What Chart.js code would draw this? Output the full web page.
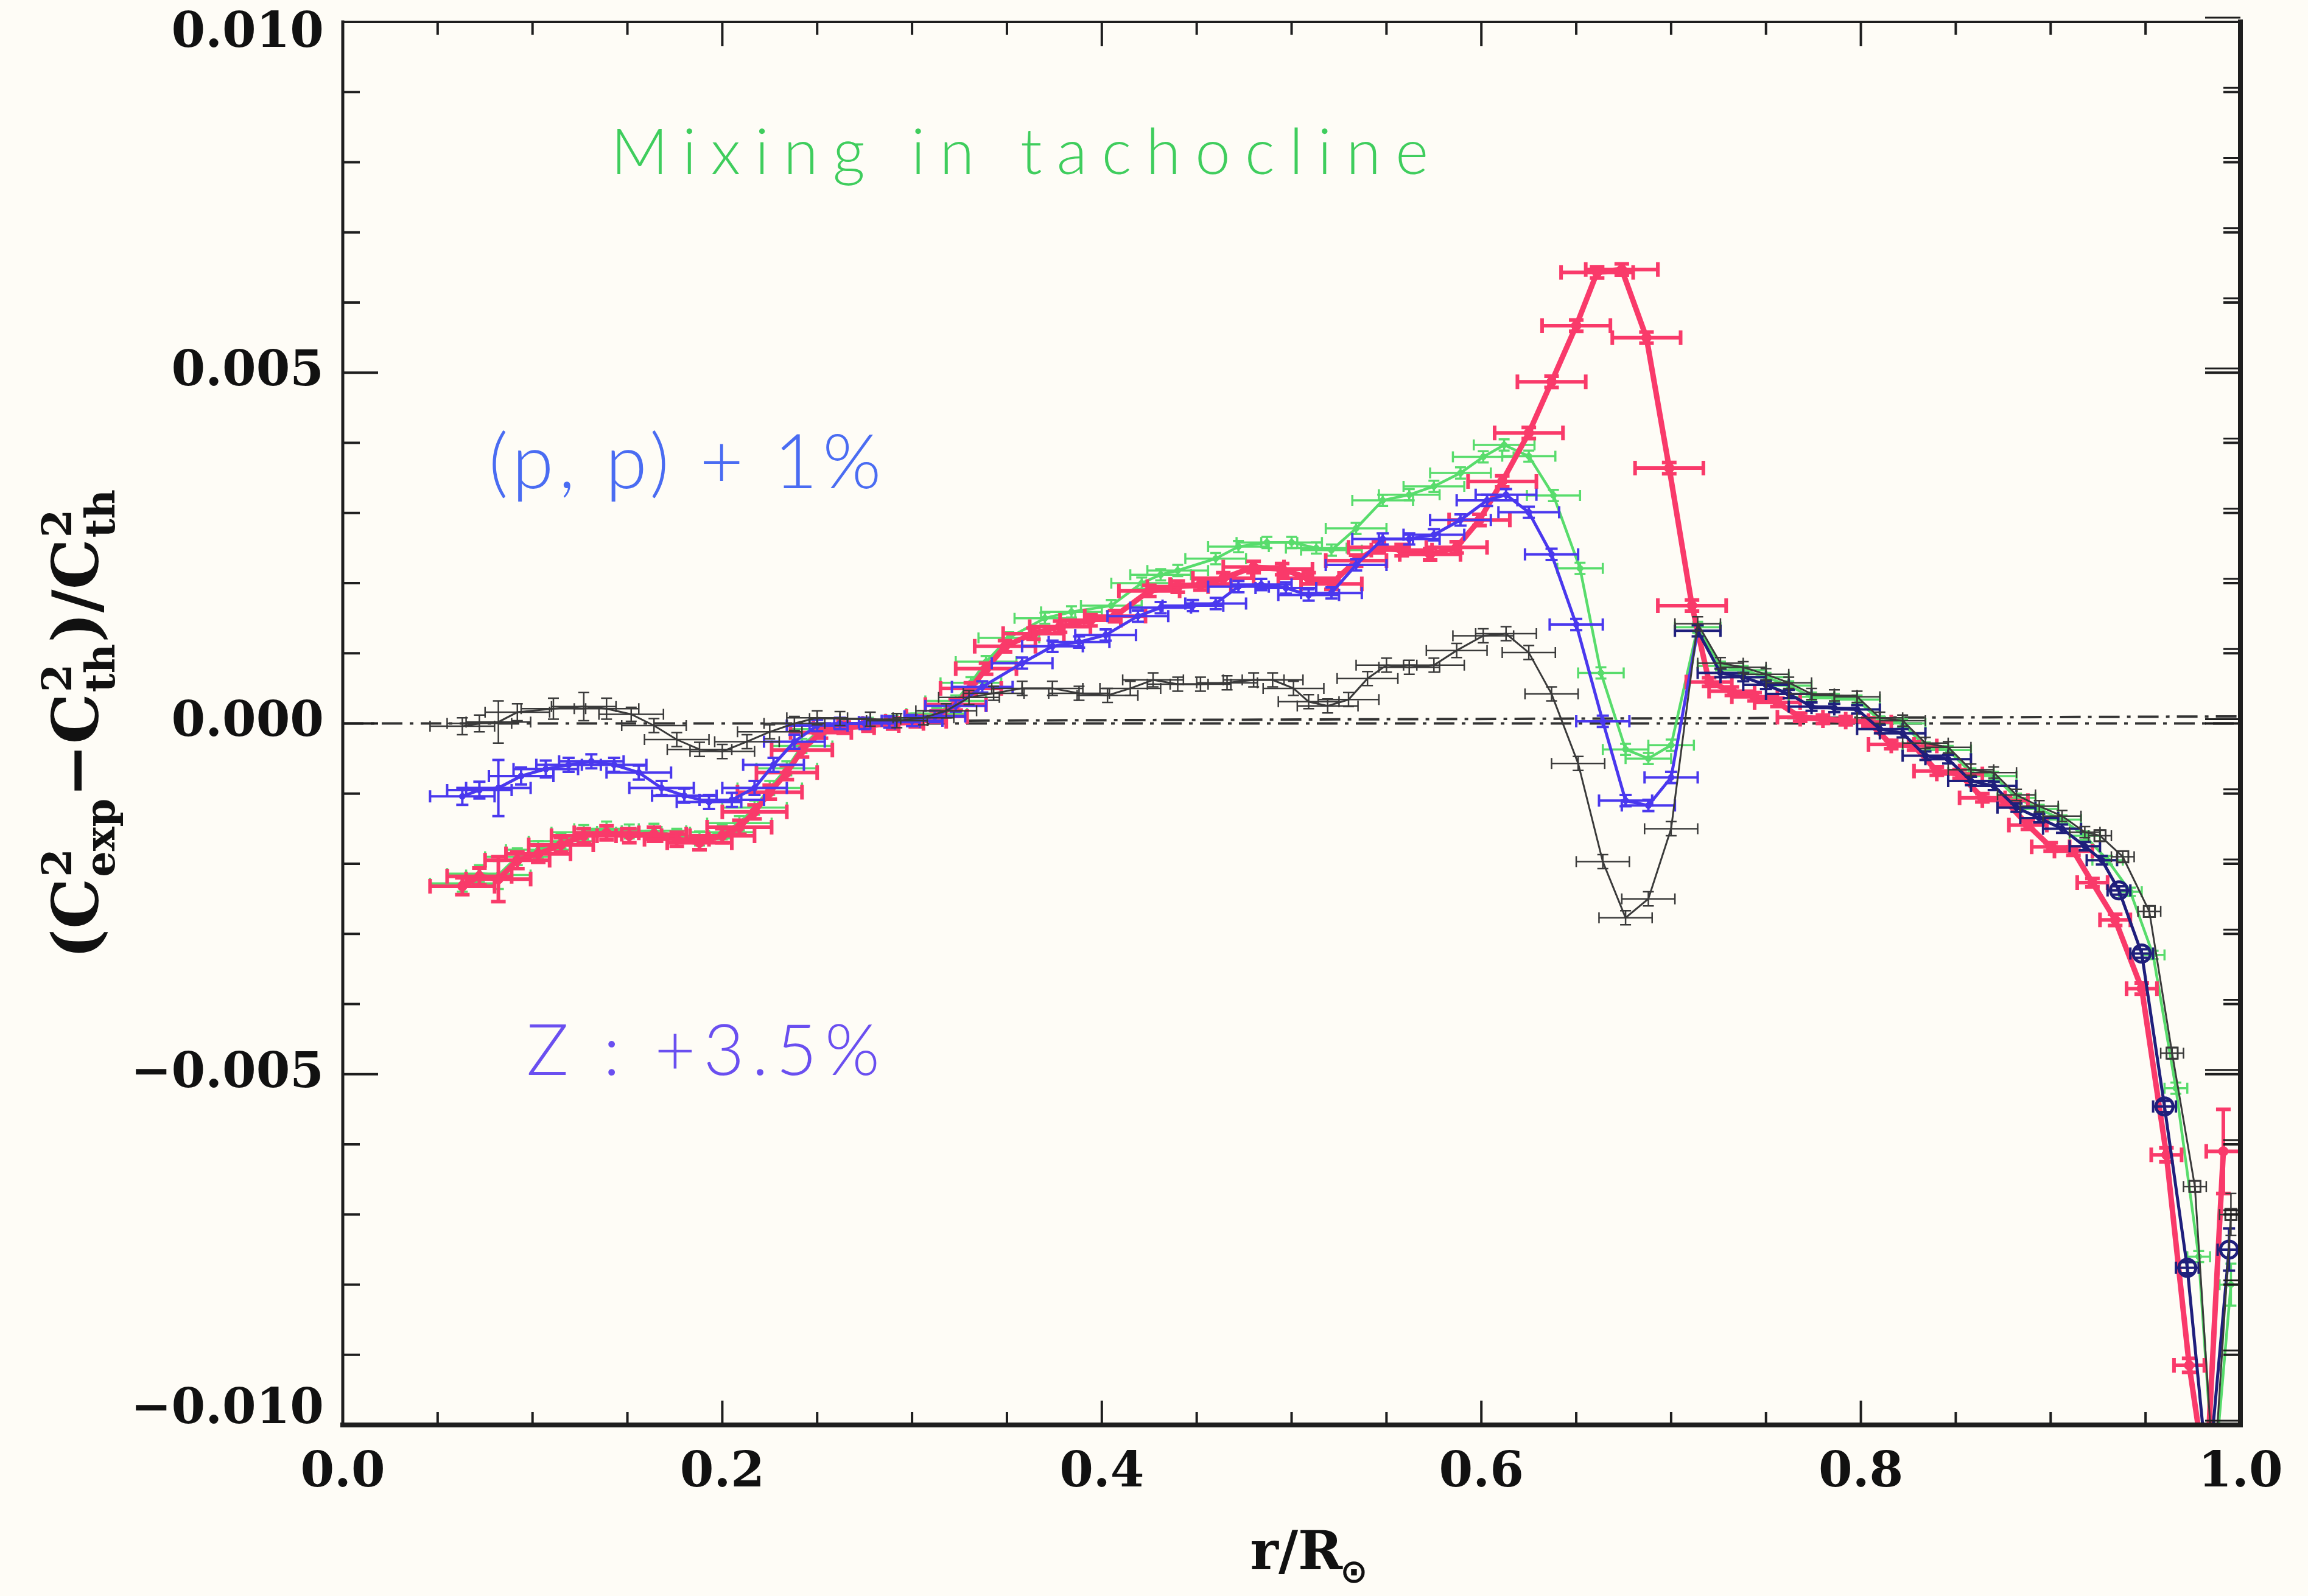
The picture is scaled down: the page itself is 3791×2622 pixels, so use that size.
<!DOCTYPE html>
<html><head><meta charset="utf-8">
<script src="https://cdn.jsdelivr.net/npm/chart.js"></script>
<style>html,body{margin:0;padding:0;background:#fefcf6;}#wrap{width:3791px;height:2622px;}</style>
</head><body><div id="wrap"><canvas id="c" width="3791" height="2622"></canvas></div>
<script>
// ---------- axis definitions ----------
const xTickValues=[0,0.2,0.4,0.6,0.8,1.0];
const xTickLabels=['0.0','0.2','0.4','0.6','0.8','1.0'];
const yTickValues=[-0.01,-0.005,0,0.005,0.01];
const yTickLabels=['\u22120.010','\u22120.005','0.000','0.005','0.010'];
const xMinorStep=0.05, yMinorStep=0.001;
const xTitle=['r/R','\u2299'];
const yTitleParts=[['(C'],['2','exp'],['\u2212C'],['2','th'],[')/C'],['2','th']];
const notes=['Mixing in tachocline','(p, p) + 1%','Z : +3.5%'];
// reference zero line(s): [x0, y0, x1, y1]
const zeroLines=[[0,0,1,0],[0.33,0.00004,1,0.0001]];

// ---------- data: [r/R, dc2/c2, r error, dc2 error] ----------
const redPts=[
[0.063,-0.00232,0.017,0.00012],[0.072,-0.00218,0.017,0.00012],[0.082,-0.00222,0.017,0.00032],[0.092,-0.00195,0.017,0.00012],
[0.103,-0.00186,0.017,0.00012],[0.115,-0.00173,0.017,0.0001],[0.127,-0.00160,0.017,0.0001],[0.139,-0.00156,0.017,0.0001],
[0.151,-0.00160,0.017,0.0001],[0.164,-0.00158,0.017,0.0001],[0.176,-0.00165,0.017,0.0001],[0.188,-0.00170,0.017,0.0001],
[0.200,-0.00160,0.017,0.0001],[0.209,-0.00148,0.017,0.0001],[0.217,-0.00126,0.017,0.0001],[0.225,-0.00098,0.017,0.0001],
[0.234,-0.00070,0.016,0.0001],[0.242,-0.00038,0.016,0.0001],[0.252,-0.00013,0.016,0.00008],[0.264,-0.00006,0.016,0.00008],
[0.277,-0.00003,0.016,0.00008],[0.290,0.00000,0.016,0.00008],[0.302,0.00003,0.016,0.00008],[0.313,0.00010,0.016,0.00008],
[0.323,0.00027,0.016,0.00008],[0.331,0.00050,0.016,0.00008],[0.339,0.00078,0.016,0.00008],[0.349,0.00110,0.016,0.00008],
[0.364,0.00128,0.016,0.00008],[0.378,0.00138,0.016,0.00008],[0.394,0.00147,0.016,0.00008],[0.407,0.00153,0.016,0.00008],
[0.425,0.00189,0.016,0.00008],[0.440,0.00195,0.016,0.00008],[0.452,0.00198,0.016,0.00008],[0.464,0.00207,0.016,0.00008],
[0.480,0.00223,0.016,0.00008],[0.495,0.00220,0.016,0.00008],[0.509,0.00207,0.016,0.00008],[0.521,0.00199,0.016,0.00008],
[0.534,0.00232,0.016,0.00008],[0.546,0.00251,0.016,0.00008],[0.558,0.00247,0.016,0.00008],[0.573,0.00241,0.016,0.00008],
[0.587,0.00251,0.016,0.00008],[0.599,0.00290,0.016,0.00008],[0.611,0.00345,0.018,0.00008],[0.625,0.00414,0.018,0.00008],
[0.637,0.00487,0.018,0.00008],[0.650,0.00567,0.018,0.00008],[0.661,0.00643,0.019,0.00008],[0.674,0.00647,0.019,0.00008],
[0.687,0.00550,0.018,0.00008],[0.699,0.00364,0.018,0.00008],[0.711,0.00168,0.018,0.00008],[0.720,0.00059,0.012,0.00006],
[0.732,0.00046,0.012,0.00006],[0.744,0.00038,0.012,0.00006],[0.756,0.00030,0.012,0.00006],[0.768,0.00009,0.012,0.00006],
[0.780,0.00006,0.012,0.00006],[0.792,0.00004,0.012,0.00006],[0.804,0.00002,0.012,0.00006],[0.816,-0.00030,0.012,0.00006],
[0.828,-0.00032,0.012,0.00006],[0.840,-0.00068,0.012,0.00006],[0.852,-0.00072,0.012,0.00006],[0.864,-0.00106,0.012,0.00006],
[0.876,-0.00110,0.012,0.00006],[0.888,-0.00145,0.010,0.00006],[0.900,-0.00176,0.010,0.00006],[0.912,-0.00182,0.010,0.00006],
[0.922,-0.00227,0.008,0.00006],[0.934,-0.00280,0.008,0.00008],[0.948,-0.00378,0.008,0.00008],[0.961,-0.00615,0.008,0.0001],
[0.973,-0.00915,0.008,0.0001],[0.982,-0.01080,0.006,0.0001],[0.991,-0.00610,0.009,0.0006]
];
const bluePts=[
[0.063,-0.00104,0.017,0.00012],[0.072,-0.00095,0.017,0.00012],[0.082,-0.00092,0.017,0.00040],[0.094,-0.00075,0.017,0.00012],
[0.107,-0.00065,0.017,0.00012],[0.119,-0.00059,0.017,0.0001],[0.131,-0.00054,0.017,0.0001],[0.143,-0.00059,0.017,0.0001],
[0.156,-0.00070,0.017,0.0001],[0.168,-0.00092,0.017,0.0001],[0.180,-0.00103,0.017,0.0001],[0.193,-0.00112,0.017,0.0001],
[0.205,-0.00109,0.017,0.0001],[0.217,-0.00092,0.017,0.0001],[0.227,-0.00059,0.016,0.0001],[0.238,-0.00026,0.016,0.0001],
[0.250,-0.00003,0.016,0.00008],[0.262,0.00000,0.016,0.00008],[0.275,0.00000,0.016,0.00008],[0.288,0.00002,0.016,0.00008],
[0.300,0.00004,0.016,0.00008],[0.312,0.00010,0.016,0.00008],[0.323,0.00025,0.016,0.00008],[0.337,0.00052,0.016,0.00008],
[0.358,0.00086,0.016,0.00008],[0.374,0.00110,0.016,0.00008],[0.388,0.00116,0.016,0.00008],[0.402,0.00126,0.016,0.00008],
[0.419,0.00153,0.016,0.00008],[0.431,0.00165,0.016,0.00008],[0.448,0.00168,0.016,0.00008],[0.460,0.00171,0.016,0.00008],
[0.472,0.00195,0.016,0.00008],[0.484,0.00198,0.016,0.00008],[0.497,0.00193,0.016,0.00008],[0.509,0.00183,0.016,0.00008],
[0.521,0.00186,0.016,0.00008],[0.534,0.00226,0.016,0.00008],[0.548,0.00263,0.016,0.00008],[0.562,0.00263,0.016,0.00008],
[0.575,0.00269,0.016,0.00008],[0.589,0.00290,0.016,0.00008],[0.603,0.00318,0.016,0.00008],[0.613,0.00326,0.016,0.00008],
[0.625,0.00301,0.016,0.00008],[0.637,0.00241,0.014,0.00008],[0.650,0.00141,0.014,0.00008],[0.664,0.00003,0.014,0.00008],
[0.676,-0.00110,0.014,0.00008],[0.688,-0.00117,0.014,0.00008],[0.700,-0.00077,0.014,0.00008],[0.714,0.00132,0.012,0.00008],
[0.726,0.00072,0.012,0.00006],[0.738,0.00066,0.012,0.00006],[0.750,0.00055,0.012,0.00006],[0.762,0.00042,0.012,0.00006],
[0.774,0.00024,0.012,0.00006],[0.786,0.00022,0.012,0.00006],[0.798,0.00020,0.012,0.00006],[0.810,-0.00008,0.012,0.00006],
[0.822,-0.00014,0.012,0.00006],[0.834,-0.00046,0.012,0.00006],[0.846,-0.00051,0.012,0.00006],[0.858,-0.00082,0.012,0.00006],
[0.870,-0.00089,0.012,0.00006],[0.882,-0.00120,0.010,0.00006],[0.894,-0.00135,0.010,0.00006],[0.906,-0.00150,0.010,0.00006],
[0.918,-0.00175,0.008,0.00006],[0.927,-0.00195,0.008,0.00006],[0.936,-0.00238,0.006,0.00006],[0.948,-0.00328,0.006,0.00006],
[0.960,-0.00546,0.006,0.00008],[0.972,-0.00776,0.006,0.00008],[0.983,-0.01080,0.005,0.0001],[0.994,-0.00750,0.006,0.0003]
];
const greenPts=[
[0.063,-0.00228,0.017,0.00012],[0.072,-0.00214,0.017,0.00012],[0.082,-0.00216,0.017,0.0002],[0.092,-0.00190,0.017,0.00012],
[0.103,-0.00180,0.017,0.00012],[0.115,-0.00168,0.017,0.0001],[0.127,-0.00155,0.017,0.0001],[0.139,-0.00150,0.017,0.0001],
[0.151,-0.00154,0.017,0.0001],[0.164,-0.00153,0.017,0.0001],[0.176,-0.00160,0.017,0.0001],[0.188,-0.00164,0.017,0.0001],
[0.200,-0.00155,0.017,0.0001],[0.209,-0.00142,0.017,0.0001],[0.217,-0.00120,0.017,0.0001],[0.225,-0.00092,0.017,0.0001],
[0.234,-0.00064,0.016,0.0001],[0.242,-0.00032,0.016,0.0001],[0.252,-0.00008,0.016,0.00008],[0.264,-0.00002,0.016,0.00008],
[0.277,0.00000,0.016,0.00008],[0.290,0.00003,0.016,0.00008],[0.302,0.00006,0.016,0.00008],[0.313,0.00014,0.016,0.00008],
[0.323,0.00032,0.016,0.00008],[0.331,0.00058,0.016,0.00008],[0.339,0.00088,0.016,0.00008],[0.351,0.00122,0.016,0.00008],
[0.370,0.00150,0.016,0.00008],[0.384,0.00159,0.016,0.00008],[0.405,0.00168,0.016,0.00008],[0.421,0.00200,0.016,0.00008],
[0.431,0.00212,0.016,0.00008],[0.440,0.00218,0.016,0.00008],[0.460,0.00235,0.016,0.00008],[0.472,0.00252,0.016,0.00008],
[0.487,0.00258,0.016,0.00008],[0.500,0.00258,0.016,0.00008],[0.513,0.00250,0.016,0.00008],[0.521,0.00247,0.016,0.00008],
[0.534,0.00278,0.016,0.00008],[0.548,0.00318,0.016,0.00008],[0.562,0.00326,0.016,0.00008],[0.575,0.00338,0.016,0.00008],
[0.589,0.00357,0.016,0.00008],[0.601,0.00380,0.016,0.00008],[0.612,0.00397,0.016,0.00008],[0.625,0.00381,0.014,0.00008],
[0.638,0.00325,0.014,0.00008],[0.652,0.00221,0.012,0.00008],[0.663,0.00072,0.012,0.00008],[0.676,-0.00037,0.012,0.00008],
[0.688,-0.00050,0.012,0.00008],[0.700,-0.00031,0.012,0.00008],[0.714,0.00137,0.012,0.00008],[0.726,0.00082,0.012,0.00006],
[0.738,0.00076,0.012,0.00006],[0.750,0.00066,0.012,0.00006],[0.762,0.00054,0.012,0.00006],[0.774,0.00038,0.012,0.00006],
[0.786,0.00036,0.012,0.00006],[0.798,0.00034,0.012,0.00006],[0.810,0.00004,0.012,0.00006],[0.822,0.00000,0.012,0.00006],
[0.834,-0.00033,0.012,0.00006],[0.846,-0.00038,0.012,0.00006],[0.858,-0.00070,0.012,0.00006],[0.870,-0.00075,0.012,0.00006],
[0.882,-0.00106,0.010,0.00006],[0.894,-0.00122,0.010,0.00006],[0.906,-0.00137,0.010,0.00006],[0.918,-0.00160,0.008,0.00006],
[0.930,-0.00195,0.008,0.00006],[0.942,-0.00240,0.006,0.00006],[0.954,-0.00330,0.006,0.00006],[0.966,-0.00520,0.006,0.00008],
[0.978,-0.00760,0.006,0.00008],[0.986,-0.01080,0.005,0.0001],[0.995,-0.00800,0.006,0.0003]
];
const blackPts=[
[0.063,-0.00004,0.017,0.00012],[0.072,0.00000,0.017,0.00012],[0.082,0.00002,0.017,0.0003],[0.092,0.00016,0.017,0.00012],
[0.111,0.00021,0.017,0.00015],[0.127,0.00024,0.017,0.0002],[0.139,0.00021,0.017,0.00015],[0.152,0.00013,0.017,0.0001],
[0.164,-0.00003,0.017,0.0001],[0.176,-0.00023,0.017,0.0001],[0.188,-0.00037,0.017,0.0001],[0.200,-0.00040,0.017,0.0001],
[0.213,-0.00026,0.017,0.0001],[0.225,-0.00012,0.017,0.0001],[0.238,0.00000,0.016,0.0001],[0.250,0.00008,0.016,0.0001],
[0.262,0.00007,0.016,0.0001],[0.278,0.00006,0.016,0.0001],[0.292,0.00004,0.016,0.0001],[0.306,0.00008,0.016,0.0001],
[0.318,0.00018,0.016,0.0001],[0.330,0.00037,0.016,0.0001],[0.343,0.00043,0.016,0.0001],[0.358,0.00050,0.016,0.0001],
[0.374,0.00050,0.016,0.0001],[0.388,0.00043,0.016,0.0001],[0.403,0.00040,0.016,0.0001],[0.415,0.00050,0.016,0.0001],
[0.427,0.00062,0.016,0.0001],[0.440,0.00056,0.016,0.0001],[0.452,0.00056,0.016,0.0001],[0.466,0.00058,0.016,0.0001],
[0.480,0.00062,0.016,0.0001],[0.490,0.00062,0.016,0.0001],[0.501,0.00050,0.016,0.0001],[0.509,0.00031,0.016,0.0001],
[0.519,0.00025,0.016,0.0001],[0.530,0.00034,0.016,0.0001],[0.540,0.00064,0.016,0.0001],[0.550,0.00083,0.016,0.0001],
[0.562,0.00080,0.016,0.0001],[0.575,0.00083,0.016,0.0001],[0.587,0.00104,0.016,0.0001],[0.601,0.00125,0.016,0.0001],
[0.613,0.00128,0.016,0.0001],[0.625,0.00101,0.014,0.0001],[0.637,0.00042,0.014,0.0001],[0.651,-0.00057,0.014,0.0001],
[0.664,-0.00197,0.014,0.0001],[0.676,-0.00277,0.014,0.0001],[0.688,-0.00250,0.014,0.0001],[0.700,-0.00150,0.014,0.0001],
[0.714,0.00142,0.012,0.0001],[0.726,0.00086,0.012,0.00008],[0.738,0.00080,0.012,0.00008],[0.750,0.00070,0.012,0.00008],
[0.762,0.00058,0.012,0.00008],[0.774,0.00042,0.012,0.00008],[0.786,0.00040,0.012,0.00008],[0.798,0.00038,0.012,0.00008],
[0.810,0.00008,0.012,0.00008],[0.822,0.00004,0.012,0.00008],[0.834,-0.00028,0.012,0.00008],[0.846,-0.00034,0.012,0.00008],
[0.858,-0.00066,0.012,0.00008],[0.870,-0.00070,0.012,0.00008],[0.882,-0.00102,0.010,0.00008],[0.894,-0.00118,0.010,0.00008],
[0.906,-0.00132,0.010,0.00008],[0.918,-0.00155,0.008,0.00008],[0.926,-0.00160,0.006,0.00008],[0.938,-0.00190,0.006,0.00008],
[0.952,-0.00268,0.006,0.00008],[0.964,-0.00470,0.006,0.00008],[0.976,-0.00660,0.006,0.00008],[0.986,-0.01080,0.005,0.0001],
[0.995,-0.00700,0.006,0.0003]
];

// ---------- styles ----------
const COL={red:'#f93a6a',blue:'#4a38ee',navy:'#1f1f7c',green:'#58dc6c',black:'#3a3a3a',axis:'#1e1e1e'};
const SERIF='"DejaVu Serif", "Liberation Serif", serif';

function toXY(p){return p.map(d=>({x:d[0],y:d[1]}));}
function blueCol(x){return x>=0.7135?COL.navy:COL.blue;}

const datasets=[
 {label:'reference',data:toXY(blackPts),pts:blackPts,errW:2.5,cap:9,col:()=>COL.black,
  borderColor:COL.black,borderWidth:3,order:1,
  pointRadius:c=>(c.raw&&c.raw.x>=0.92?13:0),pointStyle:'rect',pointBorderWidth:3,pointBorderColor:COL.black,pointBackgroundColor:'rgba(0,0,0,0)'},
 {label:'Z',data:toXY(bluePts),pts:bluePts,errW:4,cap:10,col:blueCol,
  borderColor:COL.blue,borderWidth:5,order:2,
  segment:{borderColor:c=>blueCol(c.p0.parsed.x)},
  pointRadius:c=>(c.raw&&c.raw.x>=0.93?14:5),pointStyle:'circle',pointBorderWidth:c=>(c.raw&&c.raw.x>=0.93?5:1),
  pointBorderColor:c=>blueCol(c.raw?c.raw.x:0),pointBackgroundColor:c=>(c.raw&&c.raw.x>=0.93?'rgba(0,0,0,0)':blueCol(c.raw?c.raw.x:0))},
 {label:'pp',data:toXY(redPts),pts:redPts,errW:6,cap:12,col:()=>COL.red,
  borderColor:COL.red,borderWidth:9,order:3,pointRadius:8,pointBackgroundColor:COL.red,pointBorderColor:COL.red,pointBorderWidth:1},
 {label:'mix',data:toXY(greenPts),pts:greenPts,errW:3.5,cap:9,col:()=>COL.green,
  borderColor:COL.green,borderWidth:4.5,order:4,pointRadius:5,pointBackgroundColor:COL.green,pointBorderColor:COL.green,pointBorderWidth:1}
];
datasets.forEach(d=>{d.showLine=true;d.tension=0;d.clip=0;});

// ---------- plugins ----------
const bgPlugin={id:'bg',beforeDraw(ch){const c=ch.ctx;c.save();c.fillStyle='#fefcf6';c.fillRect(0,0,ch.width,ch.height);c.restore();}};

const zeroPlugin={id:'zero',beforeDatasetsDraw(ch){
 const {ctx,scales:{x,y}}=ch;ctx.save();ctx.strokeStyle='#333';ctx.lineWidth=4;ctx.setLineDash([34,12,6,12]);
 zeroLines.forEach(l=>{ctx.beginPath();ctx.moveTo(x.getPixelForValue(l[0]),y.getPixelForValue(l[1]));ctx.lineTo(x.getPixelForValue(l[2]),y.getPixelForValue(l[3]));ctx.stroke();});
 ctx.restore();}};

const errPlugin={id:'err',afterDatasetDraw(ch,args){
 const ds=ch.data.datasets[args.index];if(!ds.pts)return;
 const {ctx,chartArea:a,scales:{x,y}}=ch;
 ctx.save();ctx.beginPath();ctx.rect(a.left,a.top,a.right-a.left,a.bottom-a.top);ctx.clip();
 ctx.lineWidth=ds.errW;ctx.lineCap='butt';
 ds.pts.forEach(p=>{
  const px=x.getPixelForValue(p[0]),py=y.getPixelForValue(p[1]);
  const x0=x.getPixelForValue(p[0]-p[2]),x1=x.getPixelForValue(p[0]+p[2]);
  const y0=y.getPixelForValue(p[1]-p[3]),y1=y.getPixelForValue(p[1]+p[3]);
  const k=ds.cap;ctx.strokeStyle=ds.col(p[0]);ctx.beginPath();
  ctx.moveTo(x0,py);ctx.lineTo(x1,py);
  ctx.moveTo(x0,py-k);ctx.lineTo(x0,py+k);ctx.moveTo(x1,py-k);ctx.lineTo(x1,py+k);
  ctx.moveTo(px,y0);ctx.lineTo(px,y1);
  ctx.moveTo(px-k,y0);ctx.lineTo(px+k,y0);ctx.moveTo(px-k,y1);ctx.lineTo(px+k,y1);
  ctx.stroke();});
 ctx.restore();}};

function seg(ctx,x0,y0,x1,y1,w){ctx.lineWidth=w;ctx.beginPath();ctx.moveTo(x0,y0);ctx.lineTo(x1,y1);ctx.stroke();}

const axisPlugin={id:'axes',afterDraw(ch){
 const {ctx,chartArea:a,scales:{x,y}}=ch;ctx.save();ctx.strokeStyle=COL.axis;ctx.lineCap='square';
 seg(ctx,a.left,a.top,a.left,a.bottom,5);seg(ctx,a.right,a.top,a.right,a.bottom,8);
 seg(ctx,a.left,a.bottom,a.right,a.bottom,8);seg(ctx,a.left,a.top,a.right,a.top,4);
 ctx.lineCap='butt';
 const nx=Math.round((x.max-x.min)/xMinorStep);
 for(let k=0;k<=nx;k++){const v=x.min+k*xMinorStep;const px=x.getPixelForValue(v);const major=xTickValues.some(t=>Math.abs(t-v)<1e-9);const L=major?40:21;
  seg(ctx,px,a.bottom,px,a.bottom-L,4);seg(ctx,px,a.top,px,a.top+L,4);}
 const ny=Math.round((y.max-y.min)/yMinorStep);
 for(let k=0;k<=ny;k++){const v=y.min+k*yMinorStep;const py=y.getPixelForValue(v);const major=yTickValues.some(t=>Math.abs(t-v)<1e-9);const L=major?58:28;
  seg(ctx,a.left,py,a.left+L,py,4);seg(ctx,a.right,py,a.right-L,py,4);seg(ctx,a.right,py-7,a.right-L,py-7,3);}
 // y tick labels (kept inside the frame's height like the original)
 ctx.fillStyle='#111';ctx.font='bold 80px '+SERIF;ctx.textAlign='right';ctx.textBaseline='middle';
 yTickValues.forEach((v,i)=>{let py=y.getPixelForValue(v);py=Math.min(Math.max(py,a.top+20),a.bottom-24);ctx.fillText(yTickLabels[i],a.left-31,py);});
 ctx.restore();}};

function fitText(ctx,text,font,color,cx,cy,targetW){
 ctx.save();ctx.font=font;ctx.fillStyle=color;ctx.textBaseline='middle';ctx.textAlign='left';
 ctx.letterSpacing='0px';const w0=ctx.measureText(text).width;
 let sp=(targetW-w0)/text.length;if(sp<-4)sp=-4;
 ctx.letterSpacing=sp.toFixed(1)+'px';
 const w=w0+sp*text.length;ctx.fillText(text,cx-w/2+sp/2,cy);ctx.restore();}

const textPlugin={id:'texts',afterDraw(ch){
 const ctx=ch.ctx;const a=ch.chartArea;
 // annotations
 fitText(ctx,notes[0],'300 104px Lato, "Open Sans", sans-serif','#3fcd5d',1675,252,1367);
 fitText(ctx,notes[1],'300 124px Lato, "Open Sans", sans-serif','#4a6cf2',1125,762,653);
 fitText(ctx,notes[2],'300 116px Lato, "Open Sans", sans-serif','#6a4ff0',1155,1729,593);
 // y title (rotated, rich text)
 ctx.save();ctx.fillStyle='#111';
 let B=100,S=64;
 const meas=(b,s)=>{let w=0;yTitleParts.forEach(p=>{if(p.length===1){ctx.font='bold '+b+'px '+SERIF;w+=ctx.measureText(p[0]).width;}else{ctx.font='bold '+s+'px '+SERIF;w+=Math.max(ctx.measureText(p[0]).width,ctx.measureText(p[1]).width)+4;}});return w;};
 const sc=774/meas(B,S);B=B*sc;S=S*sc;
 const W=meas(B,S);
 ctx.translate(121,(a.top+a.bottom)/2);ctx.rotate(-Math.PI/2);ctx.textBaseline='alphabetic';ctx.textAlign='left';
 let xx=-W/2;const base=40;
 yTitleParts.forEach(p=>{
  if(p.length===1){ctx.font='bold '+B+'px '+SERIF;ctx.fillText(p[0],xx,base);xx+=ctx.measureText(p[0]).width;}
  else{ctx.font='bold '+S+'px '+SERIF;ctx.fillText(p[0],xx+2,base-B*0.42);ctx.fillText(p[1],xx+2,base+B*0.26);
   xx+=Math.max(ctx.measureText(p[0]).width,ctx.measureText(p[1]).width)+4;}
 });
 ctx.restore();
 // x title
 ctx.save();ctx.fillStyle='#111';ctx.textBaseline='alphabetic';ctx.textAlign='left';
 ctx.font='bold 88px '+SERIF;const w1=ctx.measureText(xTitle[0]).width;
 ctx.font='bold 54px "DejaVu Sans", sans-serif';const w2=ctx.measureText(xTitle[1]).width;
 const x0=2152-(w1+w2)/2;ctx.font='bold 88px '+SERIF;ctx.fillText(xTitle[0],x0,2578);
 ctx.font='bold 54px "DejaVu Sans", sans-serif';ctx.fillText(xTitle[1],x0+w1-4,2600);
 ctx.restore();
}};

const tickFont={family:'DejaVu Serif',weight:'bold',size:80};
new Chart(document.getElementById('c').getContext('2d'),{
 type:'scatter',
 data:{datasets},
 options:{
  responsive:false,animation:false,devicePixelRatio:1,
  layout:{padding:{left:0,right:111,top:36,bottom:0}},
  plugins:{legend:{display:false},tooltip:{enabled:false}},
  scales:{
   x:{type:'linear',min:0,max:1,grid:{display:false,drawTicks:false},border:{display:false},
      afterBuildTicks:s=>{s.ticks=xTickValues.map(v=>({value:v}));},
      afterFit:s=>{s.height=281;s.paddingLeft=0;s.paddingRight=0;},
      ticks:{padding:32,font:tickFont,color:'#111',maxRotation:0,autoSkip:false,
        callback:v=>xTickLabels[xTickValues.findIndex(t=>Math.abs(t-v)<1e-9)]}},
   y:{type:'linear',min:-0.01,max:0.01,grid:{display:false,drawTicks:false},border:{display:false},
      afterBuildTicks:s=>{s.ticks=yTickValues.map(v=>({value:v}));},
      afterFit:s=>{s.width=563;s.paddingTop=0;s.paddingBottom=0;},
      ticks:{display:false}}
  }
 },
 plugins:[bgPlugin,zeroPlugin,errPlugin,axisPlugin,textPlugin]
});
</script></body></html>
